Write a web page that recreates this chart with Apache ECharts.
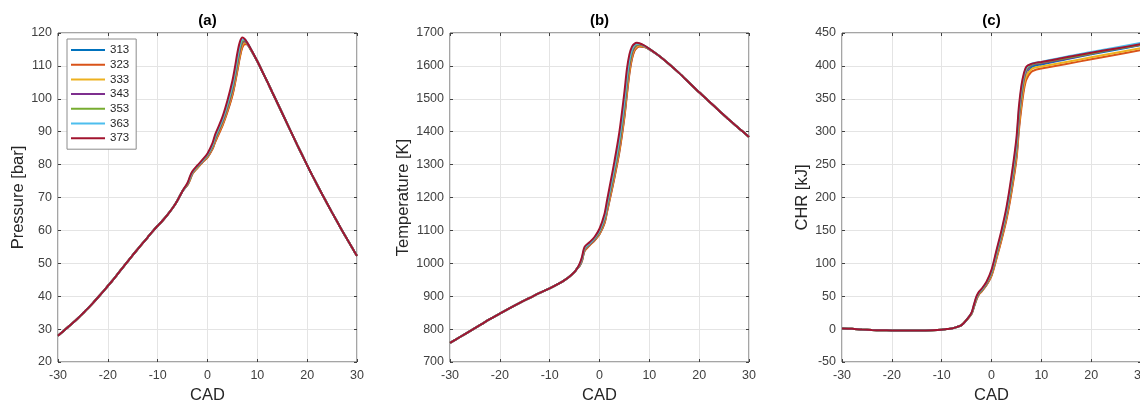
<!DOCTYPE html>
<html>
<head>
<meta charset="utf-8">
<script src="https://cdn.jsdelivr.net/npm/echarts@6/dist/echarts.min.js"></script>
<style>
html,body{margin:0;padding:0;background:#fff;}
#c{width:1140px;height:403px;}
</style>
</head>
<body>
<div id="c"></div>
<script>
// ---------- data ----------
const names = ['313', '323', '333', '343', '353', '363', '373'];
const colors = ['#0072BD', '#D95319', '#EDB120', '#7E2F8E', '#77AC30', '#4DBEEE', '#A2142F'];
const titles = ['(a)', '(b)', '(c)'];
const yNames = ['Pressure [bar]', 'Temperature [K]', 'CHR [kJ]'];
const xName = 'CAD';

// (a) Pressure [bar]
const pLeftX = [-30,-29,-28,-27,-26,-25,-24,-23,-22,-21,-20,-19,-18,-17,-16,-15,-14,-13,-12,-11,-10,-9,-8,-7,-6,-5];
const pLeftY = [28.0,29.3,30.6,31.9,33.3,34.8,36.3,37.9,39.6,41.3,43.1,44.9,46.8,48.7,50.6,52.5,54.3,56.1,57.9,59.7,61.4,63.0,64.8,66.8,69.2,72.0];
const pMidX = [-4,-3.5,-3,-2,-1,0,1,1.5,2,3,4,5,5.5,6,6.5,7,7.5,8,8.5,9];
const p313 = [73.9,75.5,77.3,79.1,80.8,82.3,84.9,86.9,88.7,92.1,96.3,101.3,104.9,108.9,113.0,115.9,116.8,116.5,115.4,114.1];
const p323 = [73.8,75.4,77.2,79.0,80.7,82.2,84.7,86.7,88.4,91.8,96.0,101.0,104.5,108.5,112.6,115.6,116.6,116.5,115.4,114.1];
const p333 = [74.0,75.6,77.4,79.2,80.9,82.5,85.1,87.2,89.0,92.4,96.8,101.9,105.5,109.6,113.6,116.4,117.1,116.7,115.5,114.2];
const p343 = [74.1,75.8,77.6,79.4,81.1,82.7,85.4,87.6,89.4,92.9,97.4,102.7,106.4,110.6,114.6,117.1,117.5,116.8,115.6,114.2];
const p353 = [74.2,76.0,77.7,79.5,81.2,82.9,85.7,88.0,89.8,93.4,98.0,103.5,107.3,111.6,115.5,117.6,117.8,116.9,115.6,114.2];
const p363 = [74.3,76.2,77.8,79.6,81.3,83.1,86.0,88.4,90.2,93.8,98.6,104.3,108.2,112.6,116.3,118.0,118.0,117.0,115.7,114.3];
const p373 = [74.5,76.5,78.0,79.8,81.5,83.4,86.5,89.0,90.8,94.5,99.5,105.5,109.5,114.0,117.3,118.6,118.1,117.0,115.7,114.3];
const pRightX = [10,11,12,13,14,15,16,17,18,19,20,21,22,23,24,25,26,27,28,29,30];
const pRightY = [111.4,108.3,105.2,102.0,98.8,95.6,92.4,89.2,86.0,82.9,79.8,76.8,73.9,71.0,68.2,65.4,62.7,60.0,57.4,54.8,52.2];

// (b) Temperature [K]
const tLeftX = [-30,-28,-26,-24,-22,-20,-18,-16,-14,-12,-10,-8,-7,-6,-5,-4.5];
const tLeftY = [758,776,794,812,830,847,864,880,895,910,924,940,949,960,974,984];
const tMidX = [-4,-3.5,-3,-2,-1,0,1,1.5,2,3,4,5,5.5,6,6.5,7,7.5,8,9,10];
const t313 = [992,1009,1038,1055,1070,1089,1123,1157,1192,1263,1343,1448,1517,1580,1623,1647,1656,1660,1658,1650];
const t323 = [992,1008,1037,1054,1069,1088,1121,1155,1189,1260,1339,1443,1512,1575,1620,1645,1655,1659,1657,1650];
const t333 = [993,1010,1040,1056,1071,1091,1127,1162,1197,1270,1351,1458,1528,1589,1630,1651,1659,1662,1659,1651];
const t343 = [994,1012,1042,1058,1073,1094,1132,1168,1204,1278,1361,1471,1542,1600,1638,1656,1663,1665,1660,1651];
const t353 = [995,1014,1044,1060,1075,1097,1137,1174,1211,1286,1371,1484,1555,1610,1645,1660,1665,1666,1661,1652];
const t363 = [996,1016,1046,1061,1077,1100,1142,1180,1218,1295,1382,1497,1568,1620,1650,1663,1667,1667,1661,1652];
const t373 = [998,1020,1050,1064,1080,1105,1150,1190,1230,1310,1400,1520,1590,1635,1658,1667,1670,1669,1662,1652];
const tRightX = [12,14,16,18,20,22,24,26,28,30];
const tRightY = [1630,1605,1578,1549,1520,1492,1464,1436,1410,1384];

// (c) CHR [kJ]
const cLeftX = [-30,-28,-26,-24,-22,-20,-18,-16,-14,-12,-10,-9,-8,-7,-6,-5];
const cLeftY = [1,0.5,-0.5,-1.3,-1.8,-2.0,-2.2,-2.2,-2.1,-1.8,-1.0,0,1,3,6,14];
const cMidX = [-4,-3.5,-3,-2.5,-2,-1,0,1,2,3,4,5,5.5,6,6.5,7,8,9,10,15,20,25,30];
const c313 = [23.5,34.5,46,53.5,57.5,67.5,82,109,137,169,210,262,307,341,368,384,398,401,402,410,417.5,424.5,431.5];
const c323 = [23,34,45,53,57,67,81,107,135,166,207,257,302,336,363,379,391,394.5,396,403,410,417,424];
const c333 = [23.5,35,46,54,58,68,83,110,139,171,213,265,311,345,371,385,395,398,399,406,413,420,427];
const c343 = [24,35.5,47,54.5,58.5,69,85,113,142,175,218,272,320,353,379,392,401,403,404,411,418.5,425.5,432];
const c353 = [24,36,48,55,59,70,86,115,144,178,222,278,326,359,383,395,402,404,405,412,419,426,432.5];
const c363 = [24.5,37,49,56,60,71,88,117,147,181,227,284,332,365,386,397,403,405,406,414,421,428,435];
const c373 = [25,38,50,57,61,72,90,120,150,185,232,290,338,370,389,399,403,405,406,413,420,426.5,433];
const cRightX = [];
const cRightY = [];

// axis ranges / ticks
const yMin = [20, 700, -50], yMax = [120, 1700, 450], yStep = [10, 100, 50];
const xMin = -30, xMax = 30, xStep = 10;

// ---------- build ----------
function pairs(xs, ys) { return xs.map((x, i) => [x, ys[i]]); }
const panels = [
  { lx: pLeftX, ly: pLeftY, mx: pMidX, mids: [p313,p323,p333,p343,p353,p363,p373], rx: pRightX, ry: pRightY },
  { lx: tLeftX, ly: tLeftY, mx: tMidX, mids: [t313,t323,t333,t343,t353,t363,t373], rx: tRightX, ry: tRightY },
  { lx: cLeftX, ly: cLeftY, mx: cMidX, mids: [c313,c323,c333,c343,c353,c363,c373], rx: cRightX, ry: cRightY }
];

const gridLefts = [58, 450, 842];
const gridTop = 33, gridH = 329, gridW = 299;
const FONT = 'Liberation Sans, Arial, Helvetica, sans-serif';
const AX = '#404040';

const grids = gridLefts.map((l, p) => ({ left: l, width: gridW, top: gridTop, height: gridH, show: true, borderColor: '#4a4a4a', borderWidth: 1, containLabel: false, outerBoundsMode: 'none' }));

const xAxes = [], yAxes = [];
const yNameGaps = [30, 37, 31];
const plain = v => String(v);
for (let p = 0; p < 3; p++) {
  xAxes.push({
    type: 'value', gridIndex: p, min: xMin, max: xMax, interval: xStep,
    name: xName, nameLocation: 'middle', nameGap: 22,
    nameTextStyle: { fontFamily: FONT, fontSize: 16.5, color: '#262626' },
    axisLine: { show: false, onZero: false },
    axisTick: { show: true, inside: true, length: 3, lineStyle: { color: AX } },
    axisLabel: { fontFamily: FONT, fontSize: 12.5, color: AX, margin: 7, formatter: plain },
    splitLine: { show: true, lineStyle: { color: '#e4e4e4', width: 1 } }
  });
  yAxes.push({
    type: 'value', gridIndex: p, min: yMin[p], max: yMax[p], interval: yStep[p],
    name: yNames[p], nameLocation: 'middle', nameGap: yNameGaps[p], nameRotate: 90,
    nameTextStyle: { fontFamily: FONT, fontSize: 16.5, color: '#262626' },
    axisLine: { show: false, onZero: false },
    axisTick: { show: true, inside: true, length: 3, lineStyle: { color: AX } },
    axisLabel: { fontFamily: FONT, fontSize: 12.5, color: AX, margin: 6, formatter: plain },
    splitLine: { show: true, lineStyle: { color: '#e4e4e4', width: 1 } }
  });
}
for (let p = 0; p < 3; p++) {
  xAxes.push({
    type: 'value', gridIndex: p, position: 'top', min: xMin, max: xMax, interval: xStep,
    axisLine: { show: false, onZero: false },
    axisTick: { show: true, inside: true, length: 3, lineStyle: { color: AX } },
    axisLabel: { show: false }, splitLine: { show: false }
  });
  yAxes.push({
    type: 'value', gridIndex: p, position: 'right', min: yMin[p], max: yMax[p], interval: yStep[p],
    axisLine: { show: false, onZero: false },
    axisTick: { show: true, inside: true, length: 3, lineStyle: { color: AX } },
    axisLabel: { show: false }, splitLine: { show: false }
  });
}

const series = [];
panels.forEach((pn, p) => {
  names.forEach((nm, i) => {
    const data = pairs(pn.lx, pn.ly).concat(pairs(pn.mx, pn.mids[i]), pairs(pn.rx, pn.ry));
    series.push({
      type: 'line', name: nm, xAxisIndex: p, yAxisIndex: p, data: data,
      showSymbol: false, symbol: 'none', smooth: 0.3,
      lineStyle: { color: colors[i], width: 2 }, itemStyle: { color: colors[i] },
      z: 2 + i
    });
  });
});

const graphics = titles.map((t, p) => ({
  type: 'text', x: gridLefts[p] + gridW / 2, y: 21,
  style: { text: t, font: 'bold 15px ' + FONT, fill: '#000', align: 'center', verticalAlign: 'middle', textAlign: 'center', textVerticalAlign: 'middle' }
}));

const option = {
  animation: false,
  backgroundColor: '#fff',
  grid: grids,
  xAxis: xAxes,
  yAxis: yAxes,
  legend: {
    data: names.map((n, i) => ({ name: n, icon: 'rect', itemStyle: { color: colors[i] } })),
    orient: 'vertical', left: 67, top: 39,
    padding: [5, 7, 5, 4], itemGap: 2.7, itemWidth: 34, itemHeight: 2,
    backgroundColor: '#fff', borderColor: '#8c8c8c', borderWidth: 1,
    selectedMode: false,
    textStyle: { fontFamily: FONT, fontSize: 11.5, color: '#262626', lineHeight: 12 }
  },
  graphic: graphics,
  series: series
};

const chart = echarts.init(document.getElementById('c'), null, { renderer: 'canvas' });
chart.setOption(option);
</script>
</body>
</html>
